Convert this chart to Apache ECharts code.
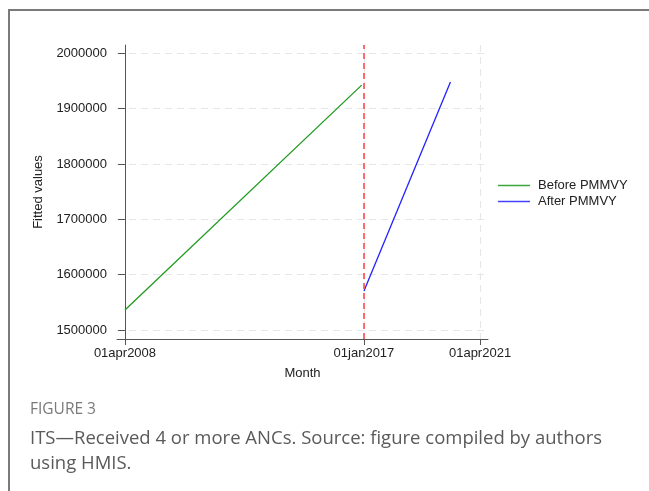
<!DOCTYPE html>
<html>
<head>
<meta charset="utf-8">
<script src="https://cdn.jsdelivr.net/npm/echarts@6/dist/echarts.min.js"></script>
<style>
html,body{margin:0;padding:0;background:#fff;}
#chart{width:649px;height:491px;}
</style>
</head>
<body>
<div id="chart"></div>
<script>
// ---- data (month 'YYYY-MM', fitted value) ----
const beforeMonths = ['2008-04', '2016-12'];
const beforeValues = [1536000, 1942500];
const afterMonths = ['2017-01', '2020-03'];
const afterValues = [1570500, 1948000];
const interventionMonth = '2017-01';
const xTickMonths = ['2008-04', '2017-01', '2021-04'];
const xTickLabels = ['01apr2008', '01jan2017', '01apr2021'];
const yTickValues = [1500000, 1600000, 1700000, 1800000, 1900000, 2000000];
const seriesNames = ['Before PMMVY', 'After PMMVY'];

// month index relative to Apr 2008
function mIdx(s) {
  const [y, m] = s.split('-').map(Number);
  return (y - 2008) * 12 + (m - 4);
}
const xTickValues = xTickMonths.map(mIdx);
const pair = (ms, vs) => ms.map((m, i) => [mIdx(m), vs[i]]);

const font = 'Liberation Sans';
const chart = echarts.init(document.getElementById('chart'), null, {renderer: 'canvas'});
chart.setOption({
  animation: false,
  backgroundColor: '#fff',
  grid: {left: 117, right: 161, top: 45, bottom: 152, containLabel: false},
  legend: {
    orient: 'vertical', left: 493, top: 174, itemWidth: 32, itemHeight: 1.5, itemGap: 3,
    icon: 'rect',
    textStyle: {fontFamily: font, fontSize: 13, color: '#222', padding: [0, 0, 0, 3]},
    data: seriesNames
  },
  xAxis: {
    type: 'value', min: -3.5, max: 159.5,
    name: 'Month', nameLocation: 'middle', nameGap: 28,
    nameTextStyle: {fontFamily: font, fontSize: 13, color: '#222'},
    axisLine: {show: true, onZero: false, lineStyle: {color: '#555', width: 1}},
    axisTick: {show: true, length: 6, customValues: xTickValues, lineStyle: {color: '#555'}},
    axisLabel: {customValues: xTickValues, fontFamily: font, fontSize: 13, color: '#222', margin: 8,
      formatter: v => { const i = xTickValues.indexOf(Math.round(v)); return i >= 0 ? xTickLabels[i] : ''; }},
    splitLine: {show: true, lineStyle: {color: '#e6e6e6', type: [7, 5], width: 1}}
  },
  yAxis: {
    type: 'value', min: 1483700, max: 2015000,
    name: 'Fitted values', nameLocation: 'middle', nameGap: 72, nameRotate: 90,
    nameTextStyle: {fontFamily: font, fontSize: 13, color: '#222'},
    axisLine: {show: true, lineStyle: {color: '#555', width: 1}},
    axisTick: {show: true, length: 7, customValues: yTickValues, lineStyle: {color: '#555'}},
    axisLabel: {customValues: yTickValues, fontFamily: font, fontSize: 13, color: '#222', margin: 10,
      formatter: v => String(v)},
    splitLine: {show: true, lineStyle: {color: '#e6e6e6', type: [7, 5], width: 1}}
  },
  series: [
    {
      name: seriesNames[0], type: 'line', data: pair(beforeMonths, beforeValues),
      symbol: 'none', showSymbol: false, lineStyle: {color: '#1f9a1f', width: 1.3}, itemStyle: {color: '#3aa83a'}
    },
    {
      name: seriesNames[1], type: 'line', data: pair(afterMonths, afterValues),
      symbol: 'none', showSymbol: false, lineStyle: {color: '#2222ff', width: 1.3}, itemStyle: {color: '#4444ff'},
      markLine: {
        silent: true, symbol: 'none', label: {show: false},
        lineStyle: {color: '#ff4a4a', type: [6, 4], width: 1.6},
        data: [{xAxis: mIdx(interventionMonth)}]
      }
    }
  ],
  graphic: [
    {type: 'rect', silent: true, shape: {x: 9, y: 10, width: 720, height: 600},
      style: {fill: 'none', stroke: '#7a7a7a', lineWidth: 2}},
    {type: 'text', left: 30, top: 402, silent: true,
      style: {text: 'FIGURE 3', fontFamily: 'Open Sans', fontSize: 15.5, fill: '#7a7a7a'}},
    {type: 'text', left: 30, top: 426, silent: true,
      style: {text: 'ITS\u2014Received 4 or more ANCs. Source: figure compiled by authors\nusing HMIS.',
        fontFamily: 'Open Sans', fontSize: 18.5, lineHeight: 25, fill: '#5a5a5a'}}
  ]
});
</script>
</body>
</html>
